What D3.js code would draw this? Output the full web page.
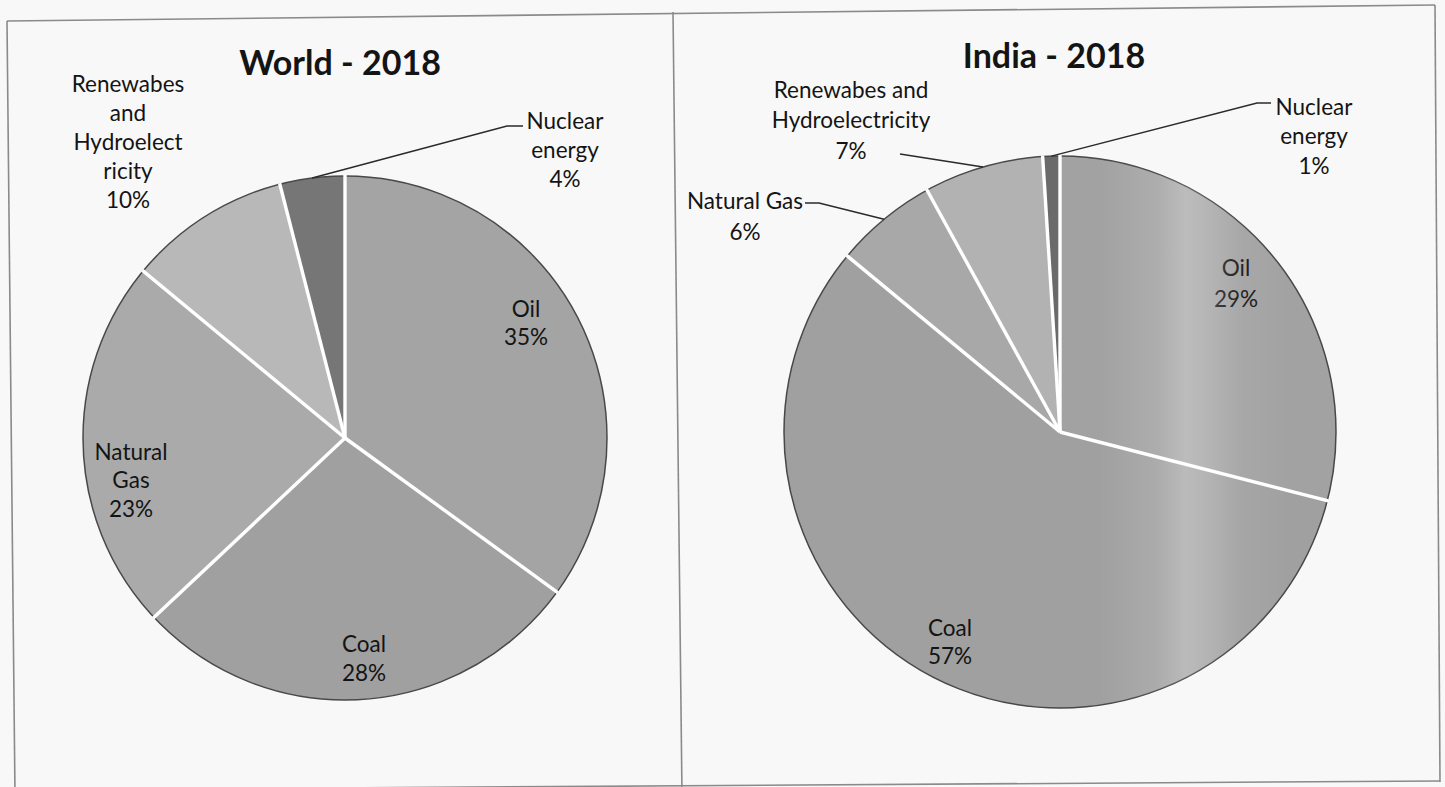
<!DOCTYPE html>
<html>
<head>
<meta charset="utf-8">
<script src="https://cdn.jsdelivr.net/npm/d3@7/dist/d3.min.js"></script>
<style>
  html, body { margin: 0; padding: 0; background: #f8f8f8; }
  svg { display: block; }
  text { font-family: Lato, "Open Sans", sans-serif; fill: #141414; }
</style>
</head>
<body>
<svg id="chart" width="1445" height="787"></svg>
<script>
// Primary energy consumption shares, 2018
const categories = ["Oil", "Coal", "Natural Gas", "Renewabes and Hydroelectricity", "Nuclear energy"];
const worldValues = [35, 28, 23, 10, 4];
const indiaValues = [29, 57, 6, 7, 1];
const worldTitle = "World - 2018";
const indiaTitle = "India - 2018";

// Label text lines per slice (wrapped as in each chart)
const worldLabelLines = [["Oil"], ["Coal"], ["Natural", "Gas"], ["Renewabes", "and", "Hydroelect", "ricity"], ["Nuclear", "energy"]];
const indiaLabelLines = [["Oil"], ["Coal"], ["Natural Gas"], ["Renewabes and", "Hydroelectricity"], ["Nuclear", "energy"]];

// Greys used for the slices
const worldFills = ["#a4a4a4", "#a0a0a0", "#aaaaaa", "#b8b8b8", "#767676"];
const indiaFills = ["#a2a2a2", "#a0a0a0", "#a8a8a8", "#b2b2b2", "#6a6a6a"];

const svg = d3.select("#chart");
const defs = svg.append("defs");

// Scanned page frame (slightly skewed)
const frame = svg.append("g").attr("stroke", "#8a8a8a").attr("stroke-width", 1.6).attr("fill", "none");
[[7, 21, 1435, 5], [7, 21, 15, 795], [673, 12, 682, 795], [1435, 5, 1440, 782], [15, 790, 1440, 781]]
  .forEach(([x1, y1, x2, y2]) => frame.append("line").attr("x1", x1).attr("y1", y1).attr("x2", x2).attr("y2", y2));

// Soft vertical glare band used on the India pie
const glare = defs.append("linearGradient").attr("id", "glare")
  .attr("gradientUnits", "userSpaceOnUse")
  .attr("x1", 1100).attr("y1", 0).attr("x2", 1290).attr("y2", 0);
[[0, 0], [0.3, 0.12], [0.45, 0.28], [0.55, 0.22], [0.75, 0.06], [1, 0]].forEach(([o, a]) =>
  glare.append("stop").attr("offset", o).attr("stop-color", "#ffffff").attr("stop-opacity", a));

function drawPie(opts) {
  const { cx, cy, r, values, fills, title, titlePos, lines, layout, overlay } = opts;
  const g = svg.append("g").attr("transform", `translate(${cx},${cy})`);
  const pie = d3.pie().sort(null).value(d => d)(values);
  const arc = d3.arc().innerRadius(0).outerRadius(r);

  g.selectAll("path.slice").data(pie).join("path")
    .attr("class", "slice")
    .attr("d", arc)
    .attr("fill", (d, i) => fills[i]);

  if (overlay) {
    svg.append("circle").attr("cx", cx).attr("cy", cy).attr("r", r)
      .attr("fill", `url(#${overlay})`);
  }

  // dark rim
  g.append("circle").attr("r", r).attr("fill", "none").attr("stroke", "#484848").attr("stroke-width", 1.5);

  // white separators between slices
  g.selectAll("line.sep").data(pie).join("line")
    .attr("class", "sep")
    .attr("x1", 0).attr("y1", 0)
    .attr("x2", d => d3.pointRadial(d.startAngle, r + 1)[0])
    .attr("y2", d => d3.pointRadial(d.startAngle, r + 1)[1])
    .attr("stroke", "#ffffff").attr("stroke-width", 3.4).attr("stroke-linecap", "butt");

  // title
  svg.append("text")
    .attr("x", titlePos[0]).attr("y", titlePos[1])
    .attr("text-anchor", "middle").attr("dominant-baseline", "central")
    .attr("font-size", 34).attr("font-weight", 700)
    .text(title);

  // labels: offsets (px) from the pie centre, line step, optional leader elbow
  pie.forEach((d, i) => {
    const L = layout[i];
    const textLines = lines[i].concat([d.value + "%"]);
    const t = g.append("text").attr("text-anchor", "middle").attr("font-size", 22.5);
    textLines.forEach((s, k) => {
      t.append("tspan")
        .attr("x", L.x)
        .attr("y", L.y + k * L.step)
        .attr("dominant-baseline", "central")
        .text(s);
    });
    if (L.leader) {
      const mid = (d.startAngle + d.endAngle) / 2;
      const p = d3.pointRadial(mid, r);
      const path = d3.path();
      path.moveTo(L.leader[0], L.leader[1]);
      if (L.leader.length > 2) path.lineTo(L.leader[2], L.leader[3]);
      path.lineTo(p[0], p[1]);
      g.append("path").attr("d", path.toString())
        .attr("fill", "none").attr("stroke", "#2a2a2a").attr("stroke-width", 1.5);
    }
  });
}

drawPie({
  cx: 345, cy: 438, r: 262,
  values: worldValues, fills: worldFills, title: worldTitle, titlePos: [340, 61],
  lines: worldLabelLines,
  layout: [
    { x: 181, y: -130, step: 28 },
    { x: 19, y: 205, step: 29 },
    { x: -214, y: 13, step: 28.5 },
    { x: -217, y: -355, step: 29.2 },
    { x: 220, y: -318, step: 29, leader: [178, -312, 162, -312] }
  ]
});

drawPie({
  cx: 1060, cy: 432, r: 276,
  values: indiaValues, fills: indiaFills, title: indiaTitle, titlePos: [1054, 54],
  lines: indiaLabelLines,
  layout: [
    { x: 176, y: -165, step: 31 },
    { x: -110, y: 195, step: 28 },
    { x: -315, y: -232, step: 31, leader: [-255, -229, -241, -229] },
    { x: -209, y: -343, step: 30.5, leader: [-160, -278] },
    { x: 254, y: -326, step: 29.5, leader: [211, -329, 197, -329] }
  ],
  overlay: "glare"
});
</script>
</body>
</html>
